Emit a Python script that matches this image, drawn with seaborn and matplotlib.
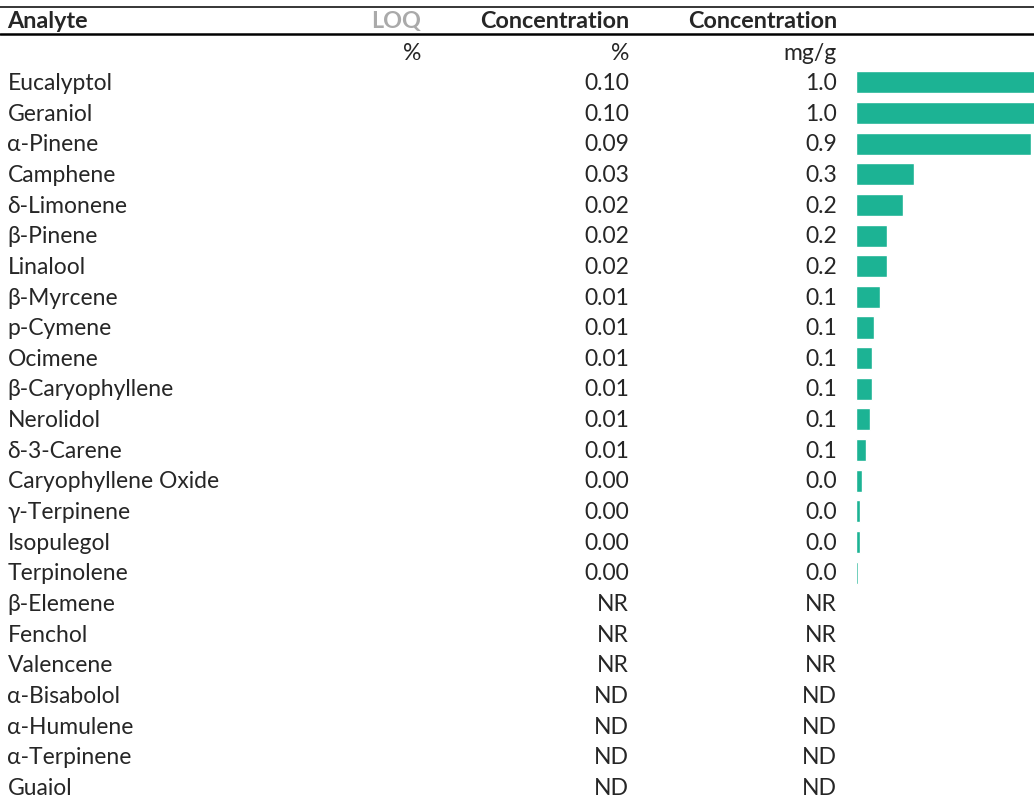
import matplotlib
matplotlib.use("Agg")
import matplotlib.pyplot as plt
import seaborn as sns
import numpy as np
import pandas as pd

# analytes, in table order
analytes = ["Eucalyptol", "Geraniol", "α-Pinene", "Camphene", "δ-Limonene", "β-Pinene",
            "Linalool", "β-Myrcene", "p-Cymene", "Ocimene", "β-Caryophyllene", "Nerolidol",
            "δ-3-Carene", "Caryophyllene Oxide", "γ-Terpinene", "Isopulegol", "Terpinolene",
            "β-Elemene", "Fenchol", "Valencene", "α-Bisabolol", "α-Humulene", "α-Terpinene",
            "Guaiol"]
# concentration in mg/g (NaN = not reported / not detected)
conc_mg = [0.98, 0.96, 0.88, 0.29, 0.236, 0.156, 0.156, 0.12, 0.09, 0.08, 0.08, 0.07,
           0.052, 0.03, 0.02, 0.02, 0.011,
           np.nan, np.nan, np.nan, np.nan, np.nan, np.nan, np.nan]
status = [""] * 17 + ["NR", "NR", "NR", "ND", "ND", "ND", "ND"]

df = pd.DataFrame({"analyte": analytes, "mg": conc_mg, "status": status})
df["pct"] = df["mg"] / 10

W, H = 1034, 801
fig = plt.figure(figsize=(W / 100, H / 100), dpi=100)
sns.set_style("white")
plt.rcParams["font.family"] = ["Lato", "DejaVu Sans"]

tab = fig.add_axes([0, 0, 1, 1])
tab.set_xlim(0, W)
tab.set_ylim(H, 0)
tab.axis("off")

base0, dy = 90, 30.65   # baseline of first row, row step (px)
fs = 16.5
green = "#1cb394"

# header
tab.axhline(7.3, color="black", lw=1.1)
tab.axhline(34.3, color="black", lw=1.8)
hdr = dict(fontsize=16.8, fontweight="bold", va="baseline")
tab.text(7.5, 28.3, "Analyte", ha="left", **hdr)
tab.text(421, 28.3, "LOQ", ha="right", color="#aaaaaa", **hdr)
tab.text(629, 28.3, "Concentration", ha="right", **hdr)
tab.text(837, 28.3, "Concentration", ha="right", **hdr)
tab.text(421, 60, "%", fontsize=fs, va="baseline", ha="right")
tab.text(629, 60, "%", fontsize=fs, va="baseline", ha="right")
tab.text(837, 60, "mg/g", fontsize=fs, va="baseline", ha="right")

for i, r in df.iterrows():
    y = base0 + i * dy
    tab.text(7.5, y, r["analyte"], fontsize=fs, va="baseline", ha="left")
    if r["status"]:
        p_txt = m_txt = r["status"]
    else:
        p_txt = f"{r['pct']:.2f}"
        m_txt = f"{r['mg']:.1f}"
    tab.text(629, y, p_txt, fontsize=fs, va="baseline", ha="right")
    tab.text(837, y, m_txt, fontsize=fs, va="baseline", ha="right")

# bar column
x_left = 856
c0 = 82.3   # centre of first bar (px)
top = c0 - dy / 2
bottom = c0 + (len(analytes) - 0.5) * dy
bar_ax = fig.add_axes([x_left / W, 1 - bottom / H, (W - x_left) / W, (bottom - top) / H])
sns.barplot(data=df, x="mg", y="analyte", orient="h", color=green, width=0.72,
            saturation=1, ax=bar_ax, order=analytes)
bar_ax.set_ylim(len(analytes) - 0.5, -0.5)
bar_ax.set_xlim(0, (W - x_left) / 199)
bar_ax.axis("off")

fig.savefig("out.png", dpi=100)
